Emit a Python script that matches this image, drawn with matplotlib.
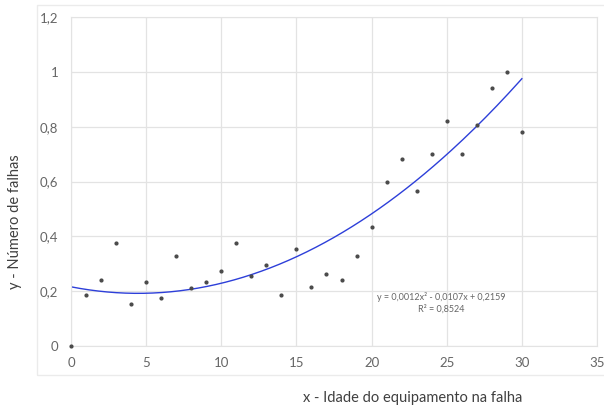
import matplotlib
matplotlib.use("Agg")
import matplotlib.pyplot as plt
from matplotlib.patches import Rectangle
import numpy as np

# idade (x) e número de falhas (y)
idade = list(range(0, 31))
falhas = [0.0, 0.185, 0.241, 0.377, 0.153, 0.232, 0.176, 0.329, 0.212, 0.232,
          0.272, 0.374, 0.255, 0.295, 0.185, 0.355, 0.215, 0.263, 0.242, 0.328,
          0.433, 0.599, 0.682, 0.566, 0.701, 0.822, 0.701, 0.805, 0.940, 0.999,
          0.782]
# tendência polinomial (ordem 2) mostrada no gráfico
coef = [0.0012, -0.0107, 0.2159]
eq_text = "y = 0,0012x² - 0,0107x + 0,2159\nR² = 0,8524"
xticks = [0, 5, 10, 15, 20, 25, 30, 35]
yticks = [0, 0.2, 0.4, 0.6, 0.8, 1.0, 1.2]
ytick_labels = ["0", "0,2", "0,4", "0,6", "0,8", "1", "1,2"]

plt.rcParams["font.family"] = ["Lato", "DejaVu Sans"]
grid_c = "#E3E3E3"
txt_c = "#666666"

fig = plt.figure(figsize=(6.04, 4.07), dpi=100)
fig.patches.append(Rectangle((37 / 604, 1 - 375 / 407), 0.99, 370 / 407,
                             transform=fig.transFigure, fill=False,
                             edgecolor="#EBEBEB", lw=1))
ax = fig.add_axes([71 / 604, 1 - 346 / 407, 526 / 604, 329 / 407])

xs = np.linspace(0, 30, 200)
ax.plot(xs, np.polyval(coef, xs), color="#2D3FD9", lw=1.0, zorder=2)
ax.scatter(idade, falhas, s=4, color="#4A4A4A", zorder=3, clip_on=False)

ax.set_xlim(0, 35)
ax.set_ylim(0, 1.2)
ax.set_xticks(xticks)
ax.set_yticks(yticks)
ax.set_yticklabels(ytick_labels)
ax.grid(color=grid_c, lw=0.9)
ax.set_axisbelow(True)
for s in ax.spines.values():
    s.set_color(grid_c)
ax.tick_params(length=0, labelsize=9.5, labelcolor=txt_c)
ax.tick_params(axis="y", pad=9)
ax.tick_params(axis="x", pad=8)

fig.text(441 / 604, 1 - 303 / 407, eq_text, ha="center", va="center",
         fontsize=6.5, color=txt_c, linespacing=1.3)

fig.text(413 / 604, 1 - 398 / 407, "x - Idade do equipamento na falha",
         ha="center", va="center", fontsize=10.5, color="#404040")
fig.text(15 / 604, 1 - 222 / 407, "y - Número de falhas", rotation=90,
         ha="center", va="center", fontsize=10.5, color="#404040")

fig.savefig("out.png", dpi=100)
